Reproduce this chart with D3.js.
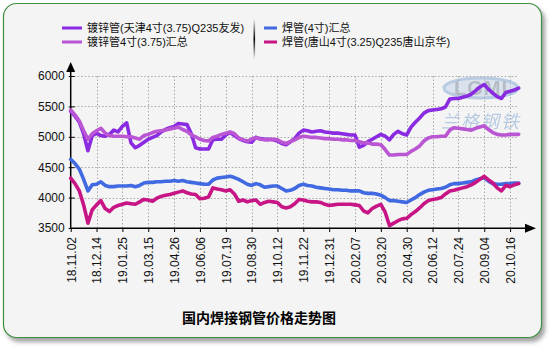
<!DOCTYPE html>
<html>
<head>
<meta charset="utf-8">
<script src="https://cdn.jsdelivr.net/npm/d3@7"></script>
<style>
  html, body { margin: 0; padding: 0; background: #ffffff; }
  svg { display: block; }
  text { font-family: "Liberation Sans", Arial, "Noto Sans CJK SC", sans-serif; }
</style>
</head>
<body>
<svg id="chart" width="550" height="350"></svg>
<script>
// Axis labels shown every 6th weekly observation
const tickLabels = ["18.11.02","18.12.14","19.01.25","19.03.15","19.04.26","19.06.06",
  "19.07.19","19.08.30","19.10.12","19.11.22","19.12.31","20.02.07","20.03.20",
  "20.04.30","20.06.12","20.07.24","20.09.04","20.10.16"];

const seriesNames = ["镀锌管(天津4寸(3.75)Q235友发)", "镀锌管4寸(3.75)汇总",
  "焊管(4寸)汇总", "焊管(唐山4寸(3.25)Q235唐山京华)"];
const seriesColors = ["#8a2be2", "#ba55d3", "#4169e1", "#c71585"];

// Weekly prices (元/吨)
const galvTianjin = [
  5420,5340,5240,5050,4770,5020,5060,5020,5010,5040,
  5110,5080,5170,5230,4900,4820,4860,4910,4960,4990,
  5020,5080,5120,5150,5170,5220,5210,5200,5050,4820,
  4800,4800,4800,4950,4960,4960,5030,5070,5020,4970,
  4940,4920,4910,4990,4970,4960,4960,4950,4930,4890,
  4870,4920,4970,5060,5110,5100,5080,5090,5100,5080,
  5070,5060,5060,5050,5040,5030,5030,4830,4860,4920,
  4960,5000,5040,5010,4950,5040,5090,5050,5030,5160,
  5240,5310,5390,5430,5440,5450,5460,5490,5620,5630,
  5630,5650,5670,5700,5760,5820,5860,5780,5720,5660,
  5630,5730,5750,5770,5800];

const galvSummary = [
  5440,5360,5260,5100,4960,5050,5100,5140,5060,5020,
  5010,5010,5010,5000,5000,4980,4960,5020,5040,5070,
  5090,5100,5110,5130,5140,5160,5120,5090,5030,5000,
  4960,4940,4930,4990,5010,5040,5060,5080,5050,4980,
  4950,4930,4960,4990,4960,4950,4950,4960,4950,4910,
  4890,4920,4950,4990,5010,5000,4990,4990,4980,4970,
  4970,4960,4960,4950,4950,4940,4940,4920,4900,4900,
  4880,4880,4870,4790,4700,4700,4710,4710,4710,4760,
  4800,4850,4930,4980,5000,5000,5010,5010,5110,5150,
  5140,5130,5120,5110,5140,5160,5180,5120,5070,5040,
  5030,5030,5040,5040,5040];

const weldedSummary = [
  4630,4560,4470,4300,4110,4210,4220,4260,4200,4180,
  4180,4190,4190,4190,4200,4180,4200,4240,4250,4250,
  4260,4260,4270,4270,4280,4270,4280,4260,4250,4240,
  4230,4220,4220,4290,4320,4330,4340,4350,4330,4300,
  4260,4220,4200,4230,4210,4170,4180,4190,4190,4150,
  4110,4120,4150,4200,4220,4200,4190,4170,4160,4150,
  4140,4130,4130,4120,4120,4110,4110,4110,4080,4070,
  4070,4060,4040,4000,3950,3950,3940,3930,3920,3960,
  4000,4050,4090,4120,4130,4140,4150,4170,4210,4230,
  4230,4240,4250,4260,4290,4310,4330,4270,4230,4220,
  4220,4230,4230,4240,4240];

const weldedTangshan = [
  4320,4230,4110,3880,3580,3800,3880,3950,3820,3770,
  3840,3870,3890,3910,3900,3890,3930,3970,3960,3940,
  3990,4020,4040,4050,4070,4090,4110,4080,4060,4050,
  3980,3990,4010,4160,4140,4130,4110,4130,4060,3940,
  3960,3930,3950,3960,3890,3920,3940,3930,3920,3850,
  3830,3850,3900,3970,3960,3940,3930,3930,3920,3890,
  3870,3880,3890,3890,3890,3890,3880,3870,3780,3750,
  3820,3860,3890,3760,3540,3580,3620,3650,3660,3720,
  3770,3830,3900,3950,3970,3980,4000,4060,4110,4120,
  4140,4160,4180,4210,4250,4300,4350,4290,4240,4160,
  4110,4200,4180,4210,4230];

const yTicks = [3500, 4000, 4500, 5000, 5500, 6000];
const chartTitle = "国内焊接钢管价格走势图";

const series = [galvTianjin, galvSummary, weldedSummary, weldedTangshan];

const svg = d3.select("#chart");
const defs = svg.append("defs");

// soft shadow under the panel
const shadow = defs.append("filter").attr("id", "panelShadow")
  .attr("x", "-5%").attr("y", "-5%").attr("width", "112%").attr("height", "115%");
shadow.append("feDropShadow").attr("dx", 3).attr("dy", 4).attr("stdDeviation", 2)
  .attr("flood-color", "#555").attr("flood-opacity", 0.55);

// fading separator between the legend columns
const sepGrad = defs.append("linearGradient").attr("id", "sepGrad")
  .attr("x1", 0).attr("y1", 0).attr("x2", 0).attr("y2", 1);
sepGrad.append("stop").attr("offset", "0%").attr("stop-color", "#000").attr("stop-opacity", 0);
sepGrad.append("stop").attr("offset", "50%").attr("stop-color", "#000").attr("stop-opacity", 1);
sepGrad.append("stop").attr("offset", "100%").attr("stop-color", "#000").attr("stop-opacity", 0);

// panel
svg.append("rect")
  .attr("x", 3.5).attr("y", 3.5).attr("width", 538).attr("height", 334)
  .attr("rx", 13).attr("ry", 13)
  .attr("fill", "#f4f4f4").attr("stroke", "#3f8f3f").attr("stroke-width", 1.2)
  .attr("filter", "url(#panelShadow)");

const n = galvTianjin.length;
const x = d3.scaleLinear().domain([0, n - 1]).range([70.7, 518.7]);
const y = d3.scaleLinear().domain([3500, 6000]).range([228, 76]);

// grid
const grid = svg.append("g").attr("stroke", "#a8a8a8").attr("stroke-width", 1)
  .attr("stroke-dasharray", "1.5,2").attr("fill", "none");
yTicks.filter(v => v > 3500).forEach(v => {
  grid.append("line").attr("x1", x(0)).attr("x2", x(n - 1))
    .attr("y1", Math.round(y(v)) + 0.5).attr("y2", Math.round(y(v)) + 0.5);
});
d3.range(6, n - 1, 6).forEach(i => {
  grid.append("line").attr("x1", Math.round(x(i)) + 0.5).attr("x2", Math.round(x(i)) + 0.5)
    .attr("y1", y(6000)).attr("y2", y(3500));
});

// watermark logo
const wm = svg.append("g").attr("opacity", 0.6);
wm.append("ellipse").attr("cx", 481).attr("cy", 88).attr("rx", 37).attr("ry", 10)
  .attr("fill", "#c9d8ea").attr("stroke", "#8fb0d8").attr("stroke-width", 3);
wm.append("text").attr("x", 481).attr("y", 95).attr("text-anchor", "middle")
  .attr("font-size", 20).attr("font-weight", "bold").attr("fill", "#8e98a6")
  .attr("letter-spacing", 1).text("LGMI");
wm.append("text").attr("x", 481).attr("y", 128).attr("text-anchor", "middle")
  .attr("font-family", "Noto Sans CJK SC").attr("font-size", 18).attr("font-style", "italic")
  .attr("fill", "#8fb0d8").attr("letter-spacing", 2).text("兰格钢铁");

// y axis
const yAxis = d3.axisLeft(y).tickValues(yTicks).tickFormat(d3.format("d"))
  .tickSize(3).tickPadding(3);
const gy = svg.append("g").attr("transform", "translate(70.7,0)").call(yAxis);
gy.select(".domain").remove();
gy.selectAll(".tick line").attr("x2", 4).attr("x1", -2).attr("stroke", "#000");
gy.selectAll(".tick text").attr("font-size", 12).attr("fill", "#111")
  .attr("font-family", "Liberation Sans, Arial, sans-serif");

// x axis
const xAxis = d3.axisBottom(x).tickValues(d3.range(0, n - 2, 6))
  .tickFormat(i => tickLabels[i / 6]).tickSize(4);
const gx = svg.append("g").attr("transform", "translate(0,228)").call(xAxis);
gx.select(".domain").remove();
gx.selectAll(".tick line").attr("stroke", "#000");
gx.selectAll(".tick text")
  .attr("font-size", 12).attr("fill", "#111")
  .attr("font-family", "Liberation Sans, Arial, sans-serif")
  .attr("transform", "rotate(-90)")
  .attr("text-anchor", "end")
  .attr("x", -9).attr("y", 0).attr("dy", "0.36em");

// axis lines with arrowheads
svg.append("line").attr("x1", 70.7).attr("x2", 70.7).attr("y1", 70).attr("y2", 228.5)
  .attr("stroke", "#000").attr("stroke-width", 1.5);
svg.append("line").attr("x1", 70).attr("x2", 528).attr("y1", 228.3).attr("y2", 228.3)
  .attr("stroke", "#000").attr("stroke-width", 1.5);
svg.append("path").attr("d", "M70.7,62 L75.2,72 L66.2,72 Z").attr("fill", "#000");
svg.append("path").attr("d", "M536,228.3 L525,223.8 L525,232.8 Z").attr("fill", "#000");

// series lines
const line = d3.line().x((d, i) => x(i)).y(d => y(d)).curve(d3.curveLinear);
series.forEach((s, k) => {
  svg.append("path").datum(s)
    .attr("fill", "none").attr("stroke", seriesColors[k])
    .attr("stroke-width", 3.6).attr("stroke-linejoin", "round").attr("stroke-linecap", "round")
    .attr("d", line);
});

// legend
const legendPos = [
  { lx1: 62, lx2: 82, tx: 87, y: 28 },
  { lx1: 62, lx2: 82, tx: 87, y: 42 },
  { lx1: 264, lx2: 277, tx: 282, y: 28 },
  { lx1: 264, lx2: 277, tx: 282, y: 42 }
];
const lg = svg.append("g");
seriesNames.forEach((name, k) => {
  const p = legendPos[k];
  lg.append("line").attr("x1", p.lx1).attr("x2", p.lx2).attr("y1", p.y).attr("y2", p.y)
    .attr("stroke", seriesColors[k]).attr("stroke-width", 3);
  lg.append("text").attr("x", p.tx).attr("y", p.y).attr("dy", "0.36em")
    .attr("font-size", 11).attr("fill", "#111").text(name);
});
lg.append("rect").attr("x", 253.5).attr("y", 19).attr("width", 1.6).attr("height", 40)
  .attr("fill", "url(#sepGrad)");

// title
svg.append("text").attr("x", 259).attr("y", 318).attr("dy", "0.36em")
  .attr("text-anchor", "middle").attr("font-size", 14).attr("font-weight", "bold")
  .attr("font-family", "Noto Sans CJK SC, sans-serif").attr("fill", "#000")
  .text(chartTitle);
</script>
</body>
</html>
